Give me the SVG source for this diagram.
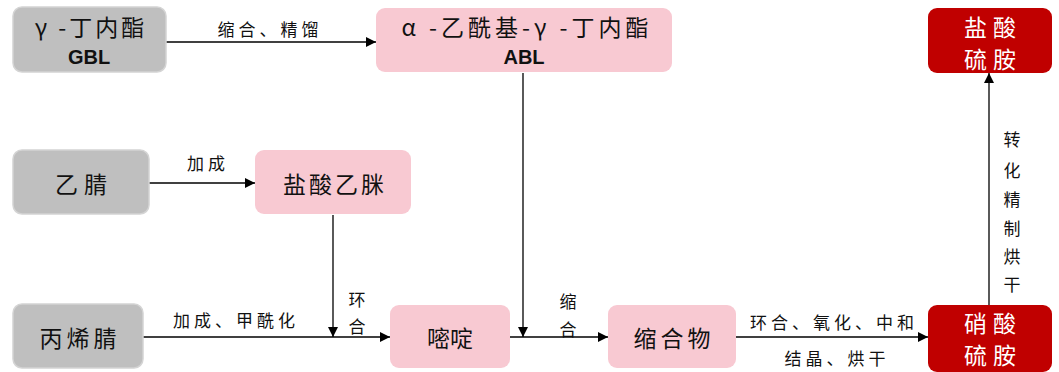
<svg xmlns="http://www.w3.org/2000/svg" width="1059" height="372" viewBox="0 0 1059 372">
<style>
.g{fill:#BFBFBF;stroke:#D4D4D4;stroke-width:1.5}
.p{fill:#F8C9D2}
.r{fill:#C00000}
.t{font-family:"Noto Sans CJK SC","Liberation Sans",sans-serif;font-size:23px;fill:#111;text-anchor:middle;dominant-baseline:central}
.tw{font-family:"Noto Sans CJK SC","Liberation Sans",sans-serif;font-size:23px;fill:#fff;text-anchor:middle;dominant-baseline:central;letter-spacing:6px}
.b{font-family:"Liberation Sans",sans-serif;font-weight:bold;font-size:20px;fill:#111;text-anchor:middle;dominant-baseline:central}
.l{font-family:"Noto Sans CJK SC",sans-serif;font-size:17px;fill:#111;text-anchor:middle;dominant-baseline:central;letter-spacing:4px}
.v{font-family:"Noto Sans CJK SC",sans-serif;font-size:17px;fill:#111;text-anchor:middle;dominant-baseline:central}
.c{stroke:#000;stroke-width:1.3;fill:none;marker-end:url(#a)}
</style>
<defs>
<marker id="a" viewBox="0 0 10 10" refX="10" refY="5" markerWidth="10" markerHeight="10" markerUnits="userSpaceOnUse" orient="auto">
<path d="M0,0 L10,5 L0,10 z" fill="#000"/>
</marker>
</defs>
<rect width="1059" height="372" fill="#fff"/>
<g id="connectors">
<line class="c" x1="166" y1="42" x2="376" y2="42"/>
<line class="c" x1="149" y1="183" x2="255" y2="183"/>
<line class="c" x1="143" y1="337" x2="390" y2="337"/>
<line class="c" x1="333" y1="215" x2="333" y2="337"/>
<line class="c" x1="510" y1="337" x2="608" y2="337"/>
<line class="c" x1="523" y1="73" x2="523" y2="337"/>
<line class="c" x1="736" y1="337" x2="928" y2="337"/>
<line class="c" x1="989" y1="305" x2="989" y2="73"/>
<text class="l" x="270" y="28">缩合、精馏</text>
<text class="l" x="208" y="162">加成</text>
<text class="l" x="236" y="319">加成、甲酰化</text>
<text class="v" x="357" y="298">环</text>
<text class="v" x="357" y="325">合</text>
<text class="v" x="568" y="300">缩</text>
<text class="v" x="568" y="328">合</text>
<text class="l" x="834" y="321">环合、氧化、中和</text>
<text class="l" x="837" y="357">结晶、烘干</text>
<text class="v" x="1012" y="138">转</text>
<text class="v" x="1012" y="169">化</text>
<text class="v" x="1012" y="198">精</text>
<text class="v" x="1012" y="227">制</text>
<text class="v" x="1012" y="255">烘</text>
<text class="v" x="1012" y="283">干</text>
</g>
<g id="GBL">
<rect class="g" x="13" y="7" width="153" height="65" rx="9"/>
<text class="t" x="91" y="26" style="letter-spacing:3px">γ -丁内酯</text>
<text class="b" x="89" y="57">GBL</text>
</g>
<g id="ABL">
<rect class="p" x="376" y="8" width="296" height="64" rx="9"/>
<text class="t" x="527" y="26" style="letter-spacing:4px">α -乙酰基-γ -丁内酯</text>
<text class="b" x="524" y="57">ABL</text>
</g>
<g id="yanjing">
<rect class="g" x="13" y="150" width="136" height="64" rx="9"/>
<text class="t" x="84" y="183" style="letter-spacing:6px">乙腈</text>
</g>
<g id="yansuanyimi">
<rect class="p" x="255" y="150" width="156" height="64" rx="9"/>
<text class="t" x="335" y="183" style="letter-spacing:3px">盐酸乙脒</text>
</g>
<g id="bingxijing">
<rect class="g" x="13" y="304" width="130" height="64" rx="9"/>
<text class="t" x="80" y="337" style="letter-spacing:4px">丙烯腈</text>
</g>
<g id="miding">
<rect class="p" x="390" y="305" width="120" height="63" rx="9"/>
<text class="t" x="450" y="337">嘧啶</text>
</g>
<g id="suohewu">
<rect class="p" x="608" y="305" width="128" height="63" rx="9"/>
<text class="t" x="674" y="337" style="letter-spacing:4px">缩合物</text>
</g>
<g id="yansuanliuan">
<rect class="r" x="928" y="8" width="124" height="65" rx="9"/>
<text class="tw" x="993" y="26">盐酸</text>
<text class="tw" x="993" y="58">硫胺</text>
</g>
<g id="xiaosuanliuan">
<rect class="r" x="928" y="305" width="124" height="67" rx="9"/>
<text class="tw" x="993" y="322">硝酸</text>
<text class="tw" x="993" y="354">硫胺</text>
</g>
</svg>
